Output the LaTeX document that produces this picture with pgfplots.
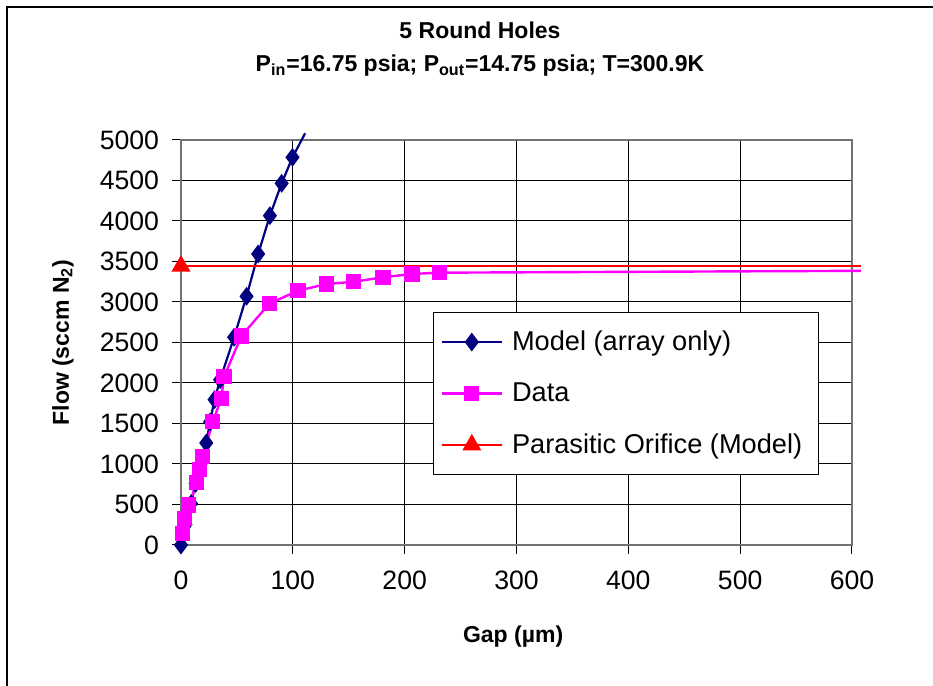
\documentclass[border=0pt]{standalone}
\usepackage{pgfplots}
\pgfplotsset{compat=1.18}
\usepackage{fontspec}
\setmainfont{Liberation Sans}
\definecolor{modelblue}{RGB}{0,0,128}
\definecolor{datamag}{RGB}{255,0,255}
\definecolor{orired}{RGB}{255,0,0}

\begin{document}
\begin{tikzpicture}
\useasboundingbox (-90.5pt,-70.5pt) rectangle (376pt,272.5pt);
\draw[line width=0.6pt] (-87pt,-90pt) -- (-87pt,269pt) -- (390pt,269pt);
\begin{axis}[
    at={(0,0)}, anchor=south west,
    scale only axis,
    width=335.5pt, height=202.5pt,
    xmin=0, xmax=600, ymin=0, ymax=5000,
    xtick={0,100,...,600}, ytick={0,500,...,5000},
    grid=major,
    major grid style={black, line width=0.5pt},
    axis line style={draw=black!55, line width=1pt},
    tick style={black, line width=0.5pt},
    tick align=outside,
    major tick length=4.5pt,
    xtick pos=bottom, ytick pos=left,
    clip=false,
    /pgf/number format/assume math mode=true,
    /pgf/number format/1000 sep={},
    tick label style={font=\fontsize{13.3}{16}\selectfont},
    yticklabel style={xshift=-3pt},
    xticklabel style={yshift=-5pt},
    xlabel={Gap (µm)},
    ylabel={Flow (sccm N\textsubscript{2})},
    label style={font=\fontsize{11.5}{14}\selectfont\bfseries},
    xlabel style={at={(axis description cs:0.495,-0.226)}, anchor=center},
    ylabel style={at={(axis description cs:-0.176,0.5)}, anchor=center},
    title={5 Round Holes\\P\textsubscript{in}=16.75 psia; P\textsubscript{out}=14.75 psia; T=300.9K},
    title style={at={(axis description cs:0.4456,1.194)}, anchor=center,
        align=center, font=\fontsize{11.5}{16.5}\selectfont\bfseries},
    legend cell align=left,
    legend style={at={(axis description cs:0.3756,0.575)}, anchor=north west,
        draw=black, line width=0.6pt, fill=white,
        font=\fontsize{13.6}{15}\selectfont,
        row sep=10.6pt, inner xsep=3.5pt, inner ysep=7pt,
        nodes={inner xsep=4.5pt}},
    legend image code/.code={
        \draw[#1, mark=none] (0pt,0pt) -- (30pt,0pt);
        \draw[#1] plot coordinates {(15pt,0pt)};},
]
\addplot[modelblue, line width=1.1pt, mark=diamond*, mark size=3.8pt,
    mark indices={1,...,15}]
    coordinates {
    (0,0) (4,250) (9,510) (13,760) (18,1010) (22.6,1260) (26,1520)
    (30,1795) (35,2040) (47.5,2565) (58.6,3070) (69,3593) (79.5,4066)
    (90,4465) (99.7,4786) (111,5083)
    };
\addlegendentry{Model (array only)}
\addplot[datamag, line width=1.2pt, mark=square*, mark size=3.2pt,
    mark indices={1,...,17}]
    coordinates {
    (1,140) (3,330) (7,495) (14,770) (16.5,935) (19.5,1090) (28.5,1525)
    (36,1805) (38.5,2078) (54,2580) (79,2980) (104.7,3140) (130.4,3222)
    (154.4,3250) (180.7,3305) (206.6,3346) (231,3362) (608,3385)
    };
\addlegendentry{Data}
\addplot[orired, line width=1pt, mark=triangle*, mark size=4.5pt,
    mark indices={1}]
    coordinates {(0,3444) (608,3444)};
\addlegendentry{Parasitic Orifice (Model)}
\end{axis}
\end{tikzpicture}
\end{document}
